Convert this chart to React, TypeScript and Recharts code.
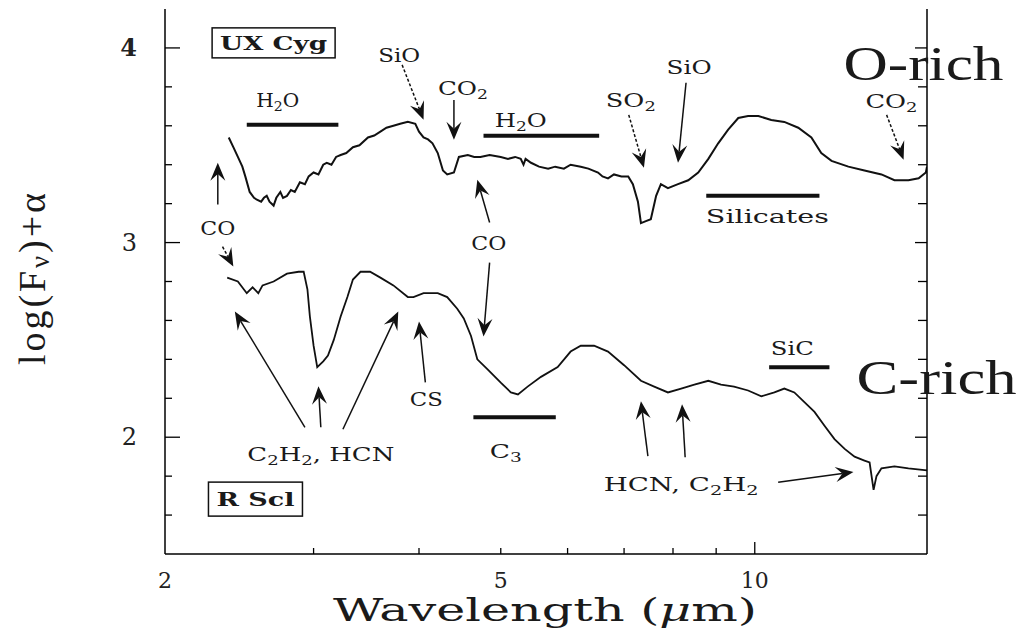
import React from 'react';
import { LineChart, Line, XAxis, YAxis, ReferenceLine, ReferenceDot, Customized } from 'recharts';

// Spectra: [wavelength (μm), log(Fν)+α]
const O_RICH_SPECTRUM: [number, number][] = [
  [2.38, 3.54], [2.41, 3.49], [2.44, 3.44], [2.47, 3.39], [2.49, 3.34], [2.52, 3.26], [2.55, 3.23],
  [2.57, 3.22], [2.6, 3.21], [2.62, 3.23], [2.64, 3.24], [2.66, 3.21], [2.69, 3.19], [2.71, 3.23],
  [2.74, 3.26], [2.76, 3.23], [2.79, 3.24], [2.82, 3.27], [2.85, 3.26], [2.89, 3.31], [2.93, 3.3],
  [2.96, 3.34], [3.0, 3.36], [3.04, 3.35], [3.08, 3.4], [3.11, 3.41], [3.15, 3.4], [3.19, 3.44],
  [3.23, 3.45], [3.28, 3.46], [3.34, 3.49], [3.4, 3.5], [3.48, 3.54], [3.54, 3.55], [3.6, 3.57],
  [3.66, 3.59], [3.73, 3.6], [3.8, 3.61], [3.88, 3.62], [3.96, 3.61], [4.0, 3.57], [4.05, 3.54],
  [4.1, 3.53], [4.15, 3.51], [4.21, 3.46], [4.27, 3.37], [4.32, 3.35], [4.4, 3.36], [4.46, 3.44],
  [4.57, 3.45], [4.65, 3.44], [4.73, 3.44], [4.85, 3.45], [5.0, 3.44], [5.1, 3.43], [5.2, 3.44],
  [5.28, 3.43], [5.32, 3.4], [5.35, 3.43], [5.43, 3.41], [5.55, 3.39], [5.69, 3.38], [5.8, 3.39],
  [5.94, 3.38], [6.05, 3.4], [6.22, 3.39], [6.35, 3.38], [6.52, 3.36], [6.6, 3.34], [6.7, 3.33],
  [6.81, 3.35], [6.95, 3.34], [7.08, 3.34], [7.17, 3.3], [7.27, 3.21], [7.33, 3.1], [7.43, 3.11],
  [7.53, 3.12], [7.64, 3.24], [7.74, 3.3], [7.89, 3.28], [8.11, 3.3], [8.34, 3.32], [8.57, 3.36],
  [8.81, 3.43], [9.05, 3.51], [9.3, 3.58], [9.56, 3.64], [9.82, 3.65], [10.1, 3.65], [10.46, 3.63],
  [10.84, 3.62], [11.26, 3.59], [11.67, 3.54], [11.99, 3.46], [12.33, 3.42], [12.91, 3.39],
  [13.49, 3.37], [14.13, 3.35], [14.64, 3.32], [15.21, 3.32], [15.64, 3.33], [15.95, 3.36], [16.0, 3.39],
];

const C_RICH_SPECTRUM: [number, number][] = [
  [2.37, 2.82], [2.44, 2.8], [2.5, 2.74], [2.54, 2.77], [2.58, 2.74], [2.61, 2.78], [2.69, 2.8],
  [2.79, 2.84], [2.88, 2.85], [2.92, 2.85], [2.95, 2.76], [2.97, 2.62], [3.0, 2.47], [3.03, 2.36],
  [3.08, 2.39], [3.12, 2.42], [3.17, 2.5], [3.23, 2.62], [3.29, 2.72], [3.34, 2.81], [3.41, 2.85],
  [3.5, 2.85], [3.6, 2.82], [3.73, 2.78], [3.88, 2.72], [3.94, 2.72], [4.05, 2.74], [4.21, 2.74],
  [4.32, 2.72], [4.44, 2.66], [4.52, 2.61], [4.61, 2.52], [4.69, 2.4], [4.82, 2.35], [5.0, 2.28],
  [5.14, 2.23], [5.24, 2.22], [5.38, 2.26], [5.58, 2.31], [5.84, 2.36], [6.05, 2.44], [6.22, 2.47],
  [6.45, 2.47], [6.7, 2.44], [7.0, 2.37], [7.33, 2.29], [7.6, 2.26], [7.89, 2.23], [8.18, 2.25],
  [8.48, 2.27], [8.81, 2.29], [9.12, 2.27], [9.45, 2.26], [9.82, 2.24], [10.18, 2.21], [10.55, 2.23],
  [10.84, 2.25], [11.14, 2.23], [11.45, 2.18], [11.77, 2.13], [12.09, 2.06], [12.43, 1.99],
  [12.78, 1.94], [13.13, 1.9], [13.49, 1.88], [13.68, 1.87], [13.83, 1.73], [13.94, 1.8],
  [14.13, 1.84], [14.64, 1.85], [15.21, 1.84], [16.0, 1.83],
];

const X_TICKS = [2, 3, 4, 5, 6, 7, 8, 9, 10];
const X_TICK_LABELS = [2, 5, 10];
const Y_TICKS = [1.6, 1.8, 2.0, 2.2, 2.4, 2.6, 2.8, 3.0, 3.2, 3.4, 3.6, 3.8, 4.0];
const Y_TICK_LABELS = [2, 3, 4];

// Horizontal band markers: wavelength range at a given level
const BANDS = [
  { from: 2.5, to: 3.21, y: 3.605 },
  { from: 4.77, to: 6.54, y: 3.549 },
  { from: 8.76, to: 11.93, y: 3.241 },
  { from: 4.64, to: 5.81, y: 2.103 },
  { from: 10.4, to: 12.26, y: 2.359 },
];

// Arrows: tail -> tip in data coordinates
const ARROWS = [
  { from: [3.82, 3.913], to: [4.05, 3.631], dashed: true },
  { from: [4.4, 3.733], to: [4.4, 3.528], dashed: false },
  { from: [4.85, 3.103], to: [4.69, 3.323], dashed: false },
  { from: [4.85, 2.897], to: [4.77, 2.518], dashed: false },
  { from: [7.09, 3.656], to: [7.39, 3.385], dashed: true },
  { from: [8.29, 3.821], to: [8.11, 3.41], dashed: false },
  { from: [14.33, 3.656], to: [15.01, 3.426], dashed: true },
  { from: [2.31, 3.195], to: [2.31, 3.41], dashed: false },
  { from: [2.34, 2.979], to: [2.41, 2.877], dashed: true },
  { from: [2.93, 2.051], to: [2.42, 2.646], dashed: false },
  { from: [3.06, 2.051], to: [3.04, 2.262], dashed: false },
  { from: [3.25, 2.041], to: [3.78, 2.646], dashed: false },
  { from: [4.07, 2.282], to: [4.0, 2.595], dashed: false },
  { from: [7.47, 1.903], to: [7.33, 2.185], dashed: false },
  { from: [8.27, 1.897], to: [8.2, 2.169], dashed: false },
  { from: [10.66, 1.769], to: [13.09, 1.821], dashed: false },
];

// Feature labels ("_" marks a subscript character)
const LABELS = [
  { text: 'H_2O', x: 2.72, y: 3.733, w: 43 },
  { text: 'SiO', x: 3.79, y: 3.964, w: 42 },
  { text: 'CO_2', x: 4.51, y: 3.795, w: 50 },
  { text: 'H_2O', x: 5.28, y: 3.631, w: 52 },
  { text: 'CO', x: 4.84, y: 3.0, w: 35 },
  { text: 'SO_2', x: 7.13, y: 3.733, w: 50 },
  { text: 'SiO', x: 8.36, y: 3.903, w: 45 },
  { text: 'Silicates', x: 10.35, y: 3.138, w: 123 },
  { text: 'CO_2', x: 14.52, y: 3.728, w: 52 },
  { text: 'CO', x: 2.31, y: 3.077, w: 35 },
  { text: 'C_2H_2, HCN', x: 3.06, y: 1.913, w: 147 },
  { text: 'CS', x: 4.08, y: 2.195, w: 33 },
  { text: 'C_3', x: 5.07, y: 1.928, w: 32 },
  { text: 'HCN, C_2H_2', x: 8.18, y: 1.759, w: 155 },
  { text: 'SiC', x: 11.08, y: 2.456, w: 43 },
];

const BOXED_LABELS = [
  { text: 'UX Cyg', x: 2.69, y: 4.026, w: 107, bw: 123, bh: 30 },
  { text: 'R Scl', x: 2.56, y: 1.682, w: 78, bw: 94, bh: 34 },
];

// Class labels anchored at their left end, on the text baseline
const CLASS_LABELS = [
  { text: 'O-rich', x: 12.74, y: 3.836 },
  { text: 'C-rich', x: 13.2, y: 2.221 },
];

const LABEL_FONT = '"DejaVu Serif", serif';
const TIMES_FONT = '"Liberation Serif", "Times New Roman", serif';

function richText(text: string, dy = 6) {
  const segs: { t: string; sub: boolean }[] = [];
  for (let i = 0; i < text.length; i++) {
    if (text[i] === '_') {
      segs.push({ t: text[i + 1], sub: true });
      i++;
    } else {
      const last = segs[segs.length - 1];
      if (last && !last.sub) last.t += text[i];
      else segs.push({ t: text[i], sub: false });
    }
  }
  let shifted = false;
  return segs.map((s, k) => {
    let d = 0;
    if (s.sub && !shifted) {
      d = dy;
      shifted = true;
    } else if (!s.sub && shifted) {
      d = -dy;
      shifted = false;
    }
    return (
      <tspan key={k} dy={d || undefined} fontSize={s.sub ? '70%' : undefined}>
        {s.t}
      </tspan>
    );
  });
}

const isMajorY = (v: number) => Math.abs(v - Math.round(v)) < 1e-6;

const BottomTick = (props: any) => {
  const { x, y, payload } = props;
  const v = payload.value;
  const len = v === 10 ? 12 : 6;
  return (
    <g>
      {v !== 2 && <line x1={x} y1={y} x2={x} y2={y - len} stroke="#000" strokeWidth={1.3} />}
      {X_TICK_LABELS.includes(v) && (
        <text x={x} y={y + 34} textAnchor="middle" fontFamily={LABEL_FONT} fontSize={22} fill="#222">
          {v}
        </text>
      )}
    </g>
  );
};

const TopTick = (props: any) => {
  const { x, y, payload } = props;
  const v = payload.value;
  const len = v === 10 ? 12 : 6;
  if (v === 2) return <g />;
  return <line x1={x} y1={y} x2={x} y2={y + len} stroke="#000" strokeWidth={1.3} />;
};

const LeftTick = (props: any) => {
  const { x, y, payload } = props;
  const v = payload.value;
  const len = isMajorY(v) ? 15 : 7;
  return (
    <g>
      <line x1={x} y1={y} x2={x + len} y2={y} stroke="#000" strokeWidth={1.3} />
      {Y_TICK_LABELS.some((t) => Math.abs(t - v) < 1e-6) && (
        <text
          x={x - 28}
          y={y}
          textAnchor="end"
          dominantBaseline="central"
          fontFamily={LABEL_FONT}
          fontSize={24}
          fontWeight={Math.round(v) === 4 ? 'bold' : 'normal'}
          fill="#222"
        >
          {Math.round(v)}
        </text>
      )}
    </g>
  );
};

const RightTick = (props: any) => {
  const { x, y, payload } = props;
  const v = payload.value;
  const len = isMajorY(v) ? 12 : 9;
  return <line x1={x} y1={y} x2={x - len} y2={y} stroke="#000" strokeWidth={1.3} />;
};

const bandShape = (p: any) => (
  <line x1={p.x1} y1={p.y1} x2={p.x2} y2={p.y2} stroke="#111" strokeWidth={4} />
);

const makeArrowShape = (dashed: boolean) => (p: any) => {
  const { x1, y1, x2, y2 } = p;
  const dx = x2 - x1;
  const dy = y2 - y1;
  const L = Math.hypot(dx, dy) || 1;
  const ux = dx / L;
  const uy = dy / L;
  const nx = -uy;
  const ny = ux;
  const len = 18;
  const half = 7.5;
  const bx = x2 - ux * len;
  const by = y2 - uy * len;
  const kx = x2 - ux * len * 0.62;
  const ky = y2 - uy * len * 0.62;
  const pts = `${x2},${y2} ${bx + nx * half},${by + ny * half} ${kx},${ky} ${bx - nx * half},${by - ny * half}`;
  return (
    <g>
      <line
        x1={x1}
        y1={y1}
        x2={kx}
        y2={ky}
        stroke="#111"
        strokeWidth={1.5}
        strokeDasharray={dashed ? '3 2' : undefined}
      />
      <polygon points={pts} fill="#111" />
    </g>
  );
};

const makeLabelShape = (text: string, w: number) => (p: any) => (
  <text
    x={p.cx}
    y={p.cy}
    textAnchor="middle"
    dominantBaseline="central"
    fontFamily={LABEL_FONT}
    fontSize={18}
    fill="#1a1a1a"
    textLength={w}
    lengthAdjust="spacingAndGlyphs"
  >
    {richText(text)}
  </text>
);

const makeBoxShape = (text: string, w: number, bw: number, bh: number) => (p: any) => (
  <g>
    <rect x={p.cx - bw / 2} y={p.cy - bh / 2} width={bw} height={bh} fill="none" stroke="#111" strokeWidth={1.5} />
    <text
      x={p.cx}
      y={p.cy}
      textAnchor="middle"
      dominantBaseline="central"
      fontFamily={LABEL_FONT}
      fontSize={19}
      fontWeight="bold"
      fill="#1a1a1a"
      textLength={w}
      lengthAdjust="spacingAndGlyphs"
    >
      {text}
    </text>
  </g>
);

const makeClassShape = (text: string) => (p: any) => (
  <text
    x={p.cx}
    y={p.cy}
    textAnchor="start"
    fontFamily={TIMES_FONT}
    fontSize={48}
    fill="#1a1a1a"
    textLength={160}
    lengthAdjust="spacingAndGlyphs"
  >
    {text}
  </text>
);

const AxisTitles = () => (
  <g>
    <text
      transform="translate(32,279) rotate(-90)"
      textAnchor="middle"
      dominantBaseline="central"
      fontFamily={TIMES_FONT}
      fontSize={38}
      fill="#1a1a1a"
      textLength={172}
      lengthAdjust="spacing"
    >
      log(F<tspan fontSize="70%" dy={8}>ν</tspan>
      <tspan dy={-8}>)+α</tspan>
    </text>
    <text
      x={545}
      y={621}
      textAnchor="middle"
      fontFamily={LABEL_FONT}
      fontSize={31}
      fill="#1a1a1a"
      textLength={424}
      lengthAdjust="spacingAndGlyphs"
    >
      Wavelength (<tspan fontStyle="italic">μ</tspan>m)
    </text>
  </g>
);

const oRichData = O_RICH_SPECTRUM.map(([wavelength, flux]) => ({ wavelength, flux }));
const cRichData = C_RICH_SPECTRUM.map(([wavelength, flux]) => ({ wavelength, flux }));

export default function App() {
  return (
    <div style={{ position: 'absolute', left: 0, top: 0, width: 1017, height: 637, background: '#fff' }}>
      <LineChart width={1017} height={637} margin={{ top: 9, right: 0, bottom: 0, left: 0 }}>
        <XAxis
          xAxisId="bottom"
          type="number"
          dataKey="wavelength"
          scale="log"
          domain={[2, 16]}
          allowDataOverflow
          ticks={X_TICKS}
          interval={0}
          height={83}
          tickSize={0}
          tickMargin={0}
          tickLine={false}
          axisLine={{ stroke: '#000', strokeWidth: 1.5 }}
          tick={<BottomTick />}
        />
        <XAxis
          xAxisId="top"
          orientation="top"
          type="number"
          dataKey="wavelength"
          scale="log"
          domain={[2, 16]}
          allowDataOverflow
          ticks={X_TICKS}
          interval={0}
          height={0}
          tickSize={0}
          tickMargin={0}
          tickLine={false}
          axisLine={{ stroke: '#000', strokeWidth: 1.5 }}
          tick={<TopTick />}
        />
        <YAxis
          yAxisId="left"
          type="number"
          domain={[1.4, 4.2]}
          allowDataOverflow
          ticks={Y_TICKS}
          interval={0}
          width={165}
          tickSize={0}
          tickMargin={0}
          tickLine={false}
          axisLine={{ stroke: '#000', strokeWidth: 1.5 }}
          tick={<LeftTick />}
        />
        <YAxis
          yAxisId="right"
          orientation="right"
          type="number"
          domain={[1.4, 4.2]}
          allowDataOverflow
          ticks={Y_TICKS}
          interval={0}
          width={90}
          tickSize={0}
          tickMargin={0}
          tickLine={false}
          axisLine={{ stroke: '#000', strokeWidth: 1.5 }}
          tick={<RightTick />}
        />
        <Line
          xAxisId="bottom"
          yAxisId="left"
          data={oRichData}
          dataKey="flux"
          type="linear"
          stroke="#111"
          strokeWidth={2}
          dot={false}
          activeDot={false}
          isAnimationActive={false}
        />
        <Line
          xAxisId="bottom"
          yAxisId="left"
          data={cRichData}
          dataKey="flux"
          type="linear"
          stroke="#111"
          strokeWidth={1.8}
          dot={false}
          activeDot={false}
          isAnimationActive={false}
        />
        {BANDS.map((b, i) => (
          <ReferenceLine
            key={`band-${i}`}
            xAxisId="bottom"
            yAxisId="left"
            segment={[
              { x: b.from, y: b.y },
              { x: b.to, y: b.y },
            ]}
            shape={bandShape}
          />
        ))}
        {ARROWS.map((a, i) => (
          <ReferenceLine
            key={`arrow-${i}`}
            xAxisId="bottom"
            yAxisId="left"
            segment={[
              { x: a.from[0], y: a.from[1] },
              { x: a.to[0], y: a.to[1] },
            ]}
            shape={makeArrowShape(a.dashed)}
          />
        ))}
        {LABELS.map((l, i) => (
          <ReferenceDot
            key={`label-${i}`}
            xAxisId="bottom"
            yAxisId="left"
            x={l.x}
            y={l.y}
            r={0}
            ifOverflow="visible"
            shape={makeLabelShape(l.text, l.w)}
          />
        ))}
        {BOXED_LABELS.map((l, i) => (
          <ReferenceDot
            key={`box-${i}`}
            xAxisId="bottom"
            yAxisId="left"
            x={l.x}
            y={l.y}
            r={0}
            ifOverflow="visible"
            shape={makeBoxShape(l.text, l.w, l.bw, l.bh)}
          />
        ))}
        {CLASS_LABELS.map((l, i) => (
          <ReferenceDot
            key={`class-${i}`}
            xAxisId="bottom"
            yAxisId="left"
            x={l.x}
            y={l.y}
            r={0}
            ifOverflow="visible"
            shape={makeClassShape(l.text)}
          />
        ))}
        <Customized component={AxisTitles} />
      </LineChart>
    </div>
  );
}
